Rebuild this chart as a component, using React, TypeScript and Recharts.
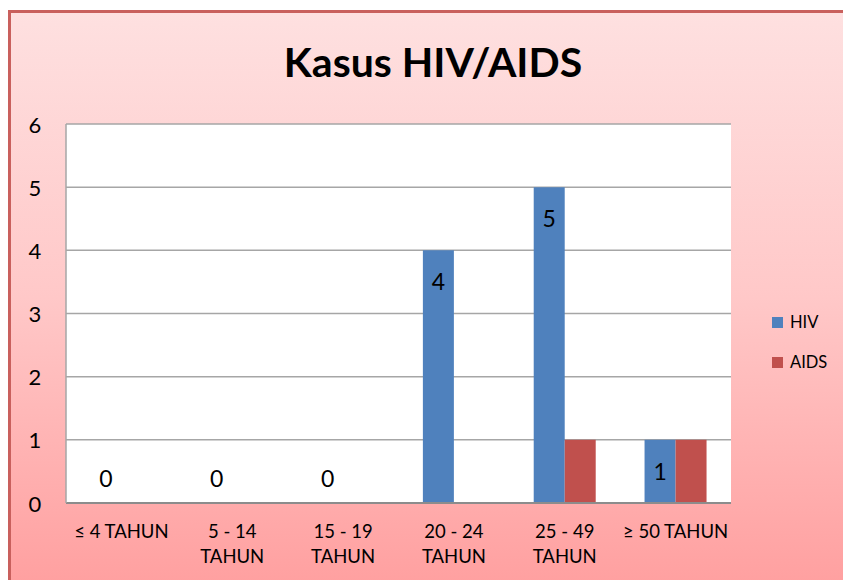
import { BarChart, Bar, XAxis, YAxis, CartesianGrid, LabelList } from 'recharts';

const categories = ['≤ 4 TAHUN', '5 - 14\nTAHUN', '15 - 19\nTAHUN', '20 - 24\nTAHUN', '25 - 49\nTAHUN', '≥ 50 TAHUN'];
const hiv = [0, 0, 0, 4, 5, 1];
const aids = [0, 0, 0, 0, 1, 1];
const yTicks = [0, 1, 2, 3, 4, 5, 6];

const seriesNames = ['HIV', 'AIDS'];
const COLORS = ['#4F81BD', '#C0504D'];

const FONT = 'Lato, "Open Sans", sans-serif';

const data = categories.map((c, i) => ({ name: c, HIV: hiv[i], AIDS: aids[i] }));

// y labels sit centered left of the plot
function YTick({ y, payload }: any) {
  return (
    <text x={35} y={y} textAnchor="middle" dominantBaseline="central" fontSize={22} fill="#000" fontFamily={FONT}>
      {payload.value}
    </text>
  );
}

function XTick({ x, y, payload }: any) {
  const lines = String(payload.value).split('\n');
  return (
    <text x={x} y={y} textAnchor="middle" fontSize={18.5} fill="#000" fontFamily={FONT}>
      {lines.map((l, i) => (
        <tspan key={i} x={x} dy={i === 0 ? 27 : 25}>{l}</tspan>
      ))}
    </text>
  );
}

// value label inside top of the bar; zeros float just above the baseline
function ValueLabel({ x, y, width, height, value }: any) {
  const cy = value === 0 ? y + height - 25 : y + 31;
  return (
    <text x={x + width / 2} y={cy} textAnchor="middle" dominantBaseline="central" fontSize={23} fill="#000" fontFamily={FONT}>
      {value}
    </text>
  );
}

export default function App() {
  return (
    <div style={{ position: 'absolute', left: 0, top: 0, width: 843, height: 580, overflow: 'hidden', background: '#fff', fontFamily: FONT }}>
      <div
        style={{
          position: 'absolute',
          left: 8,
          top: 10,
          width: 1000,
          height: 700,
          borderLeft: '3px solid #C9605D',
          borderTop: '3px solid #C9605D',
          background: 'linear-gradient(#FEE0E0 0px, #FFC8C8 285px, #FFA0A0 570px, #FFA0A0 700px)',
        }}
      />
      <div
        style={{
          position: 'absolute',
          left: 0,
          top: 37,
          width: 866,
          textAlign: 'center',
          fontSize: 41,
          fontWeight: 700,
          color: '#000',
        }}
      >
        Kasus HIV/AIDS
      </div>

      <div style={{ position: 'absolute', left: 0, top: 0 }}>
        <BarChart
          width={843}
          height={580}
          data={data}
          margin={{ top: 124, right: 112, bottom: 0, left: 0 }}
          barCategoryGap="22%"
          barGap={0}
        >
          <CartesianGrid vertical={false} fill="#fff" stroke="#A6A6A6" strokeWidth={1.5} />
          <XAxis
            dataKey="name"
            height={77}
            interval={0}
            tickLine={false}
            axisLine={{ stroke: '#8C8C8C', strokeWidth: 2 }}
            tick={<XTick />}
          />
          <YAxis
            width={66}
            domain={[0, 6]}
            ticks={yTicks}
            tickLine={false}
            axisLine={{ stroke: '#A6A6A6', strokeWidth: 1.5 }}
            tick={<YTick />}
          />
          <Bar dataKey="HIV" fill={COLORS[0]} minPointSize={1} isAnimationActive={false}>
            <LabelList dataKey="HIV" content={<ValueLabel />} />
          </Bar>
          <Bar dataKey="AIDS" fill={COLORS[1]} isAnimationActive={false} />
        </BarChart>
      </div>

      {seriesNames.map((n, i) => (
        <div key={n} style={{ position: 'absolute', left: 772, top: 312 + i * 40, display: 'flex', alignItems: 'center' }}>
          <div style={{ width: 11, height: 11, background: COLORS[i], marginRight: 7 }} />
          <span style={{ fontSize: 16.5, color: '#000' }}>{n}</span>
        </div>
      ))}
    </div>
  );
}
